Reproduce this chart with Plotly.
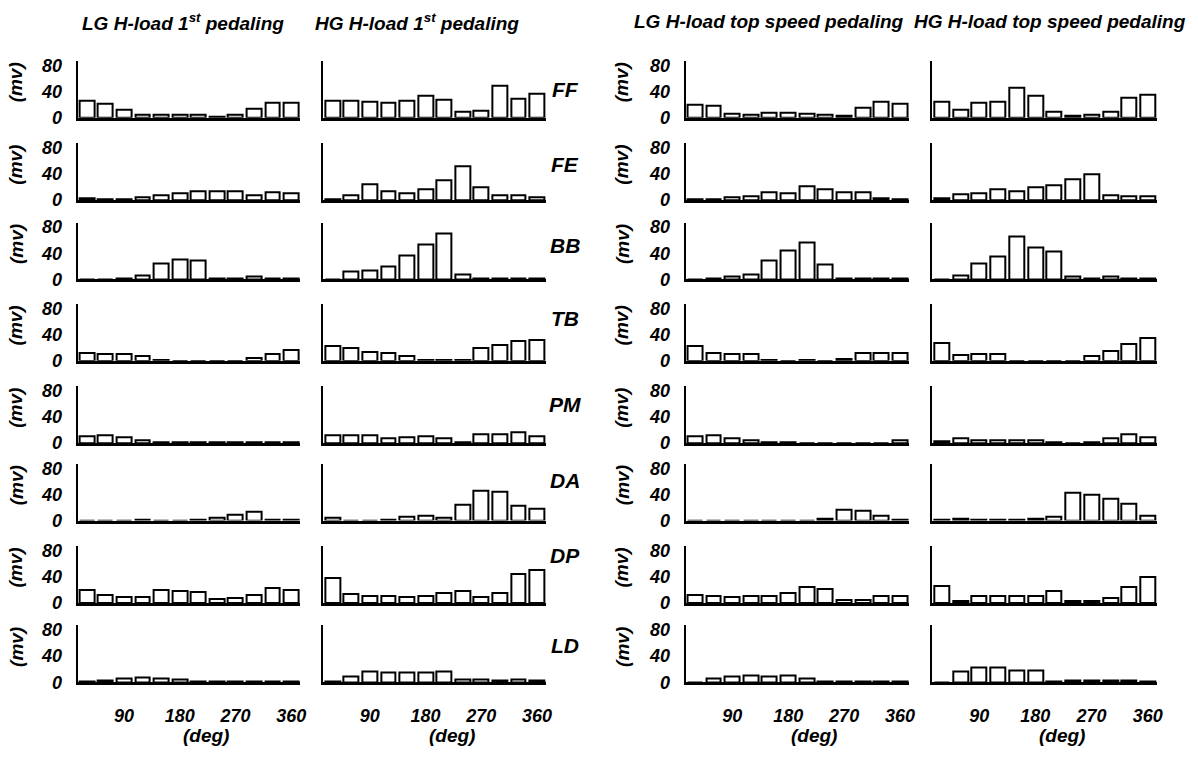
import plotly.graph_objects as go

# ---------------- data ----------------
angles = [30, 60, 90, 120, 150, 180, 210, 240, 270, 300, 330, 360]
tick_vals = [90, 180, 270, 360]
tick_text = ["90", "180", "270", "360"]
muscles = ["FF", "FE", "BB", "TB", "PM", "DA", "DP", "LD"]
titles = ["LG H-load 1<sup>st</sup> pedaling",
          "HG H-load 1<sup>st</sup> pedaling",
          "LG H-load top speed pedaling",
          "HG H-load top speed pedaling"]
y_ticks = [0, 40, 80]
y_unit = "(mv)"
x_unit = "(deg)"

# rows: FF, FE, BB, TB, PM, DA, DP, LD  (values in mV)
lg_first = [
    [26, 21, 12, 5, 5, 4, 4, 2, 4, 13, 23, 23],
    [3, 1, 2, 4, 7, 10, 14, 13, 13, 8, 12, 10],
    [0.5, 0.5, 2, 6, 24, 31, 29, 1, 1, 4, 1, 1],
    [12, 10, 10, 8, 2, 0.5, 0.5, 0.5, 0.5, 5, 10, 16],
    [10, 12, 9, 5, 1, 1, 1, 1, 1, 1.5, 1, 2],
    [0.5, 0.5, 0.5, 1, 0.5, 0.5, 2, 5, 9, 14, 1, 1],
    [20, 12.5, 8.5, 8.5, 19, 18.5, 16, 6, 8, 12, 22, 19],
    [1, 2.5, 6.5, 8, 6.5, 4.5, 1, 1, 1, 2, 1, 1],
]
hg_first = [
    [26, 26, 25, 22, 26, 33, 28, 9, 10, 48, 29, 36],
    [1, 7, 25, 13, 10, 17, 31, 52, 20, 8, 8, 4],
    [0.5, 12, 13, 19, 36, 53, 70, 8, 2, 2, 2, 1],
    [23, 20, 14, 12, 7, 1, 1, 1, 19, 25, 31, 32],
    [12, 12, 12, 8, 9, 11, 8, 1, 13, 13.5, 17, 10],
    [4, 0.5, 0.5, 1.5, 5.5, 7, 4, 24, 46, 44.5, 22, 18],
    [37.5, 13.5, 10, 10, 8.5, 10, 15.5, 17.5, 9.5, 15, 44, 50],
    [1.5, 9.5, 16.5, 14.5, 14.5, 15.5, 16, 4, 5, 3.5, 4, 2.5],
]
lg_top = [
    [20, 17.5, 6, 5, 7.5, 7.5, 6, 5, 2.5, 15, 24, 21.5],
    [1.5, 1, 4.5, 6, 12.5, 10, 21.5, 16, 11.5, 12.5, 3.5, 1],
    [0.5, 1.5, 4, 8, 29.5, 44, 56.5, 22.5, 1, 1, 1, 1],
    [22, 12.5, 11, 10, 2, 0.5, 1, 0.5, 2.5, 11.5, 12.5, 11.5],
    [10, 11.5, 8, 5, 2, 2, 0.5, 0.5, 0.5, 0.5, 0.5, 5],
    [0.5, 0.5, 0.5, 0.5, 0.5, 0.5, 0.5, 2.5, 17, 15.5, 7, 1.5],
    [12.5, 10, 9, 10, 10, 15, 24, 21.5, 5, 4, 10, 11],
    [0.5, 6, 8.5, 10, 8.5, 10.5, 6, 2, 1.5, 2, 1, 1],
]
hg_top = [
    [25, 12.5, 22.5, 23.5, 46, 33.5, 9.5, 2.5, 5, 9.5, 30, 34.5],
    [2.5, 8.5, 10, 16, 13.5, 19.5, 22.5, 32.5, 40, 7.5, 6, 6],
    [0.5, 5.5, 24, 35, 65, 48.5, 42, 4.5, 2, 4.5, 1, 1],
    [27, 8.5, 11, 11, 0.5, 0.5, 0.5, 0.5, 7, 15.5, 25.5, 35],
    [2.5, 7.5, 5, 5, 5, 5, 1, 0.5, 1.5, 7.5, 14, 9.5],
    [1, 2.5, 1, 1, 1.5, 3, 5.5, 42, 40, 33, 26, 7],
    [26, 2.5, 10, 10, 10, 10, 18, 3.5, 3.5, 7, 24, 40],
    [0.5, 17, 22, 22, 18, 18, 1, 3, 3.5, 3, 3, 2],
]
conditions = [lg_first, hg_first, lg_top, hg_top]

# ---------------- layout geometry (pixels) ----------------
W, H = 1198, 757
col_px = [(78, 302), (325, 549), (689, 914), (937, 1163)]
row_base_px = [115, 199, 280, 363, 447, 526, 610, 691]
panel_h = 58
title_x = [184, 419, 773, 1055]
title_y = 17
muscle_x = 568
muscle_y = [86, 163, 245, 320, 408, 485, 562, 653]
mv_x = [16, None, 625, None]
deg_y = 745

FONT = "Liberation Sans, Arial, sans-serif"


def fx(px):
    return px / W


def fy(py):
    return 1 - py / H


fig = go.Figure()
layout = dict(
    width=W, height=H,
    margin=dict(l=0, r=0, t=0, b=0),
    paper_bgcolor="white", plot_bgcolor="white",
    showlegend=False,
    bargap=0,
    font=dict(family=FONT, color="black"),
)
annotations = []

for r in range(8):
    for c in range(4):
        idx = r * 4 + c + 1
        sfx = "" if idx == 1 else str(idx)
        fig.add_trace(go.Bar(
            x=angles, y=conditions[c][r], width=24,
            xaxis="x" + sfx, yaxis="y" + sfx,
            marker=dict(color="white", line=dict(color="black", width=2)),
            hoverinfo="skip", showlegend=False,
        ))
        x0, x1 = col_px[c]
        base = row_base_px[r]
        layout["xaxis" + sfx] = dict(
            domain=[fx(x0), fx(x1)], range=[15, 375], anchor="y" + sfx,
            showline=True, linecolor="black", linewidth=2.5,
            showgrid=False, zeroline=False, ticks="",
            tickvals=tick_vals, ticktext=tick_text,
            showticklabels=(r == 7), ticklabelstandoff=15,
            tickfont=dict(family=FONT, size=18, style="italic", weight="bold"),
            fixedrange=True,
        )
        layout["yaxis" + sfx] = dict(
            domain=[fy(base), fy(base - panel_h)], range=[0, 87], anchor="x" + sfx,
            showline=True, linecolor="black", linewidth=2,
            showgrid=False, zeroline=False, ticks="",
            tickvals=y_ticks, showticklabels=(c in (0, 2)), ticklabelstandoff=10,
            tickfont=dict(family=FONT, size=18, style="italic", weight="bold"),
            fixedrange=True,
        )
        if mv_x[c] is not None:
            annotations.append(dict(
                text=y_unit, xref="paper", yref="paper",
                x=fx(mv_x[c]), y=fy(base - 36), textangle=-90,
                showarrow=False, xanchor="center", yanchor="middle",
                font=dict(family=FONT, size=19, style="italic", weight="bold"),
            ))
        if r == 7:
            annotations.append(dict(
                text=x_unit, xref="x" + sfx, yref="paper",
                x=222, y=fy(deg_y), showarrow=False,
                xanchor="center", yanchor="middle",
                font=dict(family=FONT, size=19, style="italic", weight="bold"),
            ))

for c in range(4):
    annotations.append(dict(
        text=titles[c], xref="paper", yref="paper",
        x=fx(title_x[c]), y=fy(title_y), showarrow=False,
        xanchor="center", yanchor="middle",
        font=dict(family=FONT, size=19, style="italic", weight="bold"),
    ))

for r in range(8):
    annotations.append(dict(
        text=muscles[r], xref="paper", yref="paper",
        x=fx(muscle_x), y=fy(muscle_y[r]), showarrow=False,
        xanchor="center", yanchor="middle",
        font=dict(family=FONT, size=21, style="italic", weight="bold"),
    ))

layout["annotations"] = annotations
fig.update_layout(**layout)
fig.write_html("out.html")
